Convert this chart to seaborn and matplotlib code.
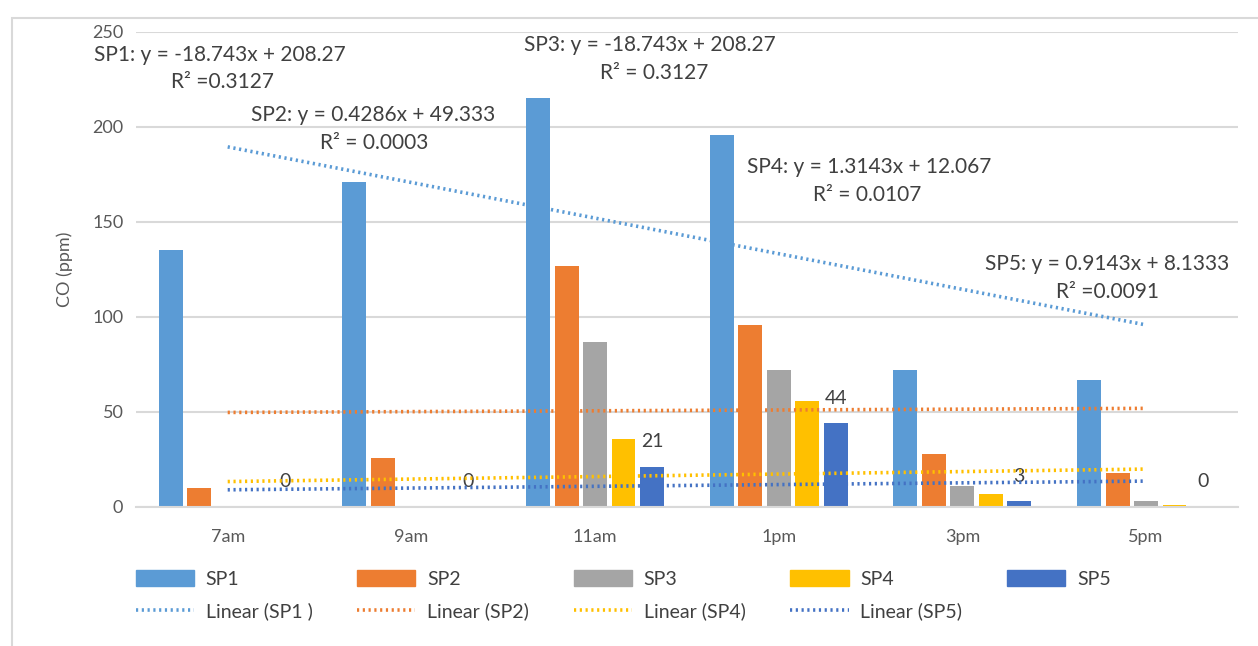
import numpy as np
import pandas as pd
import seaborn as sns
import matplotlib.pyplot as plt
from matplotlib.patches import Patch, Rectangle
from matplotlib.lines import Line2D

times = ['7am', '9am', '11am', '1pm', '3pm', '5pm']
sites = ['SP1', 'SP2', 'SP3', 'SP4', 'SP5']
sp1 = [135, 171, 215, 196, 72, 67]
sp2 = [10, 26, 127, 96, 28, 18]
sp3 = [0, 0, 87, 72, 11, 3]
sp4 = [0, 0, 36, 56, 7, 1]
sp5 = [0, 0, 21, 44, 3, 0]
trend_sites = ['SP1', 'SP2', 'SP4', 'SP5']
trend_labels = ['Linear (SP1 )', 'Linear (SP2)', 'Linear (SP4)', 'Linear (SP5)']
colors = {'SP1': '#5B9BD5', 'SP2': '#ED7D31', 'SP3': '#A5A5A5',
          'SP4': '#FFC000', 'SP5': '#4472C4'}

df = pd.DataFrame({'time': times * 5,
                   'site': np.repeat(sites, len(times)),
                   'co': sp1 + sp2 + sp3 + sp4 + sp5})
df['pos'] = df['time'].map({t: i for i, t in enumerate(times)})

sns.set_style('white')
plt.rcParams['font.family'] = ['Lato', 'DejaVu Sans']
txt = '#404040'
grid = '#D9D9D9'

fig = plt.figure(figsize=(12.58, 6.46), dpi=100)
ax = fig.add_axes([0.108, 0.2152, 0.876, 0.7353])

sns.barplot(data=df, x='time', y='co', hue='site', order=times, hue_order=sites,
            palette=colors, saturation=1, width=0.775, gap=0.16, linewidth=0,
            legend=False, ax=ax)

# excel-style linear trendlines
for s in trend_sites:
    sns.regplot(data=df[df['site'] == s], x='pos', y='co', scatter=False, ci=None,
                truncate=True, ax=ax,
                line_kws=dict(color=colors[s], linewidth=2.6,
                              linestyle=(0, (0.6, 1.0)), zorder=4))

ax.bar_label(ax.containers[4], labels=[str(v) for v in sp5], padding=12,
             fontsize=14, color=txt)

ax.set_xlim(-0.5, 5.5)
ax.set_ylim(0, 250)
ax.set_yticks([0, 50, 100, 150, 200, 250])
ax.yaxis.grid(True, color=grid, linewidth=1.5)
ax.set_axisbelow(True)
for sp in ['top', 'right', 'left']:
    ax.spines[sp].set_visible(False)
ax.spines['bottom'].set_color(grid)
ax.spines['bottom'].set_linewidth(1.5)
ax.tick_params(axis='both', length=0, labelsize=13, labelcolor='#595959')
ax.tick_params(axis='x', pad=16)
ax.tick_params(axis='y', pad=9)
ax.set_xlabel('')
ax.set_ylabel('CO (ppm)', fontsize=13, color='#595959', labelpad=14)

eqs = [(-0.04, 237.9, 'SP1: y = -18.743x + 208.27'), (-0.03, 223.7, 'R² =0.3127'),
       (0.79, 206.3, 'SP2: y = 0.4286x + 49.333'), (0.80, 191.6, 'R² = 0.0003'),
       (2.30, 243.2, 'SP3: y = -18.743x + 208.27'), (2.32, 228.4, 'R² = 0.3127'),
       (3.49, 178.9, 'SP4: y = 1.3143x + 12.067'), (3.48, 164.2, 'R² = 0.0107'),
       (4.79, 127.9, 'SP5: y = 0.9143x + 8.1333'), (4.79, 113.2, 'R² =0.0091')]
for x, y, t in eqs:
    ax.text(x, y, t, ha='center', va='center', fontsize=15, color=txt, zorder=5)

bar_h = [Patch(color=colors[s], label=s) for s in sites]
line_h = [Line2D([], [], color=colors[s], linewidth=2.6, linestyle=(0, (0.6, 1.0)),
                 label=l) for s, l in zip(trend_sites, trend_labels)]
blank = Line2D([], [], alpha=0, label=' ')
handles = []
for i in range(5):
    handles.append(bar_h[i])
    handles.append(line_h[i] if i < 4 else blank)
fig.legend(handles=handles, ncol=5, loc='upper left', bbox_to_anchor=(0.1, 0.132),
           frameon=False, fontsize=14, handlelength=3.0, handleheight=0.85,
           handletextpad=0.6, columnspacing=2.3, labelspacing=0.75, borderpad=0,
           labelcolor=txt)

fig.add_artist(Rectangle((0.0095, -0.01), 1.0, 0.982, transform=fig.transFigure,
                         fill=False, edgecolor=grid, linewidth=1.5))

fig.savefig('out.png', dpi=100)
